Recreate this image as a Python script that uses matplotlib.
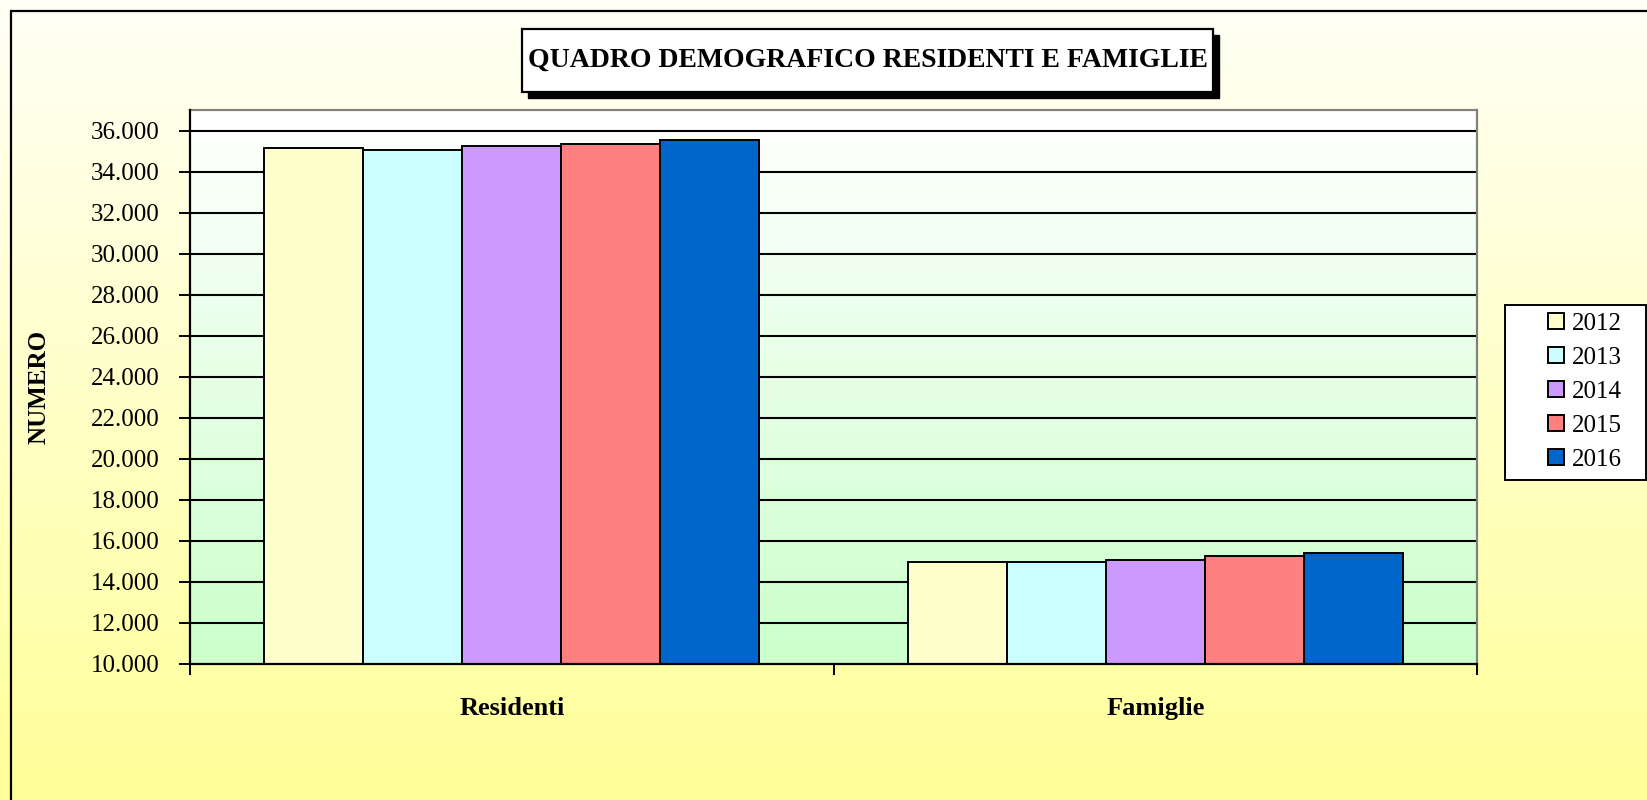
import matplotlib
matplotlib.use("Agg")
import matplotlib.pyplot as plt
import matplotlib.patches as patches
from matplotlib.ticker import FuncFormatter
import numpy as np

categories = ["Residenti", "Famiglie"]
years = ["2012", "2013", "2014", "2015", "2016"]
values = {
    "2012": [35130, 14985],
    "2013": [35030, 14985],
    "2014": [35225, 15085],
    "2015": [35340, 15285],
    "2016": [35515, 15400],
}
colors = ["#FFFFCC", "#CCFFFF", "#CC99FF", "#FF8080", "#0066CC"]

W, H = 1647, 800
FONT = "Liberation Serif"
plt.rcParams["font.family"] = [FONT, "DejaVu Serif"]

fig = plt.figure(figsize=(W / 100, H / 100), dpi=100)

# figure background: pale cream at top to yellow at bottom
bg = fig.add_axes([0, 0, 1, 1], zorder=-10)
grad = np.linspace(0, 1, 256).reshape(-1, 1)
top_c = np.array([1.0, 1.0, 0.965])
bot_c = np.array([1.0, 1.0, 0.60])
img = top_c + (bot_c - top_c) * grad[:, :, None]
bg.imshow(img, aspect="auto", extent=[0, 1, 0, 1], origin="upper")
bg.set_axis_off()

def px(x0, y0, x1, y1):
    # pixel box (from top-left) -> figure fraction rect
    return [x0 / W, 1 - y1 / H, (x1 - x0) / W, (y1 - y0) / H]

def rect(box, **kw):
    r = px(*box)
    fig.patches.append(patches.Rectangle(r[:2], r[2], r[3],
                                         transform=fig.transFigure, **kw))

# outer border (right/bottom run off the picture)
fig.patches.append(patches.Rectangle((11 / W, -0.05), 1.2, (H - 11) / H + 0.05,
                                     transform=fig.transFigure, fill=False,
                                     edgecolor="black", linewidth=1.6))

ax = fig.add_axes(px(190, 110, 1477, 664))
ax.set_facecolor("none")

ymin, ymax = 10000, 37000
nc = len(categories)
ax.set_xlim(-0.5, nc - 0.5)
ax.set_ylim(ymin, ymax)

# plot area gradient white -> light green
pg_top = np.array([1.0, 1.0, 1.0])
pg_bot = np.array([0.80, 1.0, 0.80])
pimg = pg_top + (pg_bot - pg_top) * grad[:, :, None]
ax.imshow(pimg, aspect="auto", extent=[-0.5, nc - 0.5, ymin, ymax],
          origin="upper", zorder=0)

bw = 1 / (len(years) + 1.5)
x = np.arange(nc)
for i, (yr, c) in enumerate(zip(years, colors)):
    ax.bar(x + (i - 2) * bw, values[yr], width=bw, color=c, edgecolor="black",
           linewidth=1.4, zorder=3, label=yr)

yt = np.arange(10000, 36001, 2000)
ax.set_yticks(yt)
ax.yaxis.set_major_formatter(FuncFormatter(lambda v, p: f"{int(v):,}".replace(",", ".")))
for v in yt[1:]:
    ax.axhline(v, color="black", linewidth=1.5, zorder=1)

ax.set_xticks(x)
ax.set_xticklabels(categories, fontsize=19, fontweight="bold")
ax.set_xticks(np.arange(-0.5, nc, 1.0), minor=True)
ax.tick_params(axis="x", which="major", length=0, pad=24)
ax.tick_params(axis="x", which="minor", length=8, width=1.4, direction="out")
ax.tick_params(axis="y", length=8, width=1.4, direction="out", pad=14, labelsize=18)

for s in ["left", "bottom"]:
    ax.spines[s].set_color("black")
    ax.spines[s].set_linewidth(1.6)
    ax.spines[s].set_zorder(5)
for s in ["top", "right"]:
    ax.spines[s].set_color("#808080")
    ax.spines[s].set_linewidth(1.6)

fig.text(39 / W, 1 - 387 / H, "NUMERO", rotation=90, ha="center", va="center",
         fontsize=18, fontweight="bold")

# title box with shadow
rect((528, 35, 1219, 98), facecolor="black", edgecolor="black", zorder=1)
rect((522, 29, 1213, 92), facecolor="white", edgecolor="black", linewidth=1.6, zorder=2)
fig.text((522 + 1213) / 2 / W, 1 - 60.5 / H, "QUADRO DEMOGRAFICO RESIDENTI E FAMIGLIE",
         ha="center", va="center", fontsize=20, fontweight="bold", zorder=3)

# legend: white frame, entries set in from the left
rect((1505, 305, 1646, 480), facecolor="white", edgecolor="black", linewidth=1.4, zorder=1)
leg = fig.legend(loc="center left", bbox_to_anchor=(1548 / W, 1 - 392 / H),
                 frameon=False, fontsize=18, handlelength=0.62, handleheight=0.62,
                 handletextpad=0.35, labelspacing=0.48, borderpad=0, borderaxespad=0)
leg.set_zorder(3)

fig.savefig("out.png", dpi=100)
